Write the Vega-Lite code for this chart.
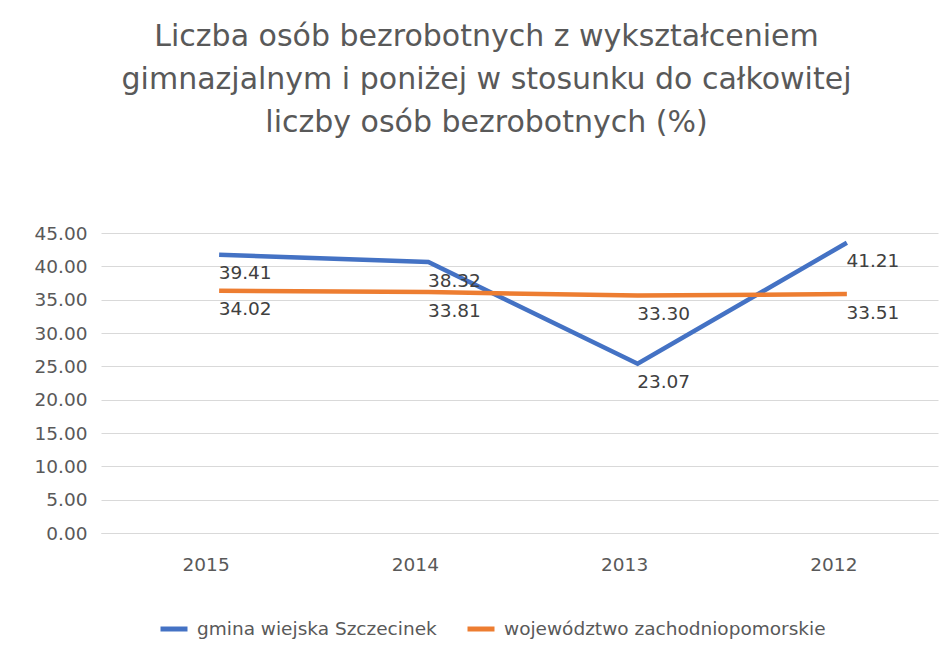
{
  "$schema": "https://vega.github.io/schema/vega-lite/v6.json",
  "width": 837,
  "height": 300,
  "autosize": {"type": "none"},
  "padding": {"left": 101, "top": 233, "right": 14, "bottom": 125},
  "background": "white",
  "config": {"view": {"stroke": null}},
  "title": {
    "text": ["Liczba osób bezrobotnych z wykształceniem", "gimnazjalnym i poniżej w stosunku do całkowitej", "liczby osób bezrobotnych (%)"],
    "font": "DejaVu Sans",
    "fontSize": 30,
    "fontWeight": "normal",
    "color": "#595959",
    "lineHeight": 43,
    "anchor": "middle",
    "frame": "group",
    "dx": -33,
    "offset": 86
  },
  "data": {
    "values": [
      {"year": "2015", "series": "gmina wiejska Szczecinek", "value": 39.41},
      {"year": "2014", "series": "gmina wiejska Szczecinek", "value": 38.32},
      {"year": "2013", "series": "gmina wiejska Szczecinek", "value": 23.07},
      {"year": "2012", "series": "gmina wiejska Szczecinek", "value": 41.21},
      {"year": "2015", "series": "województwo zachodniopomorskie", "value": 34.02},
      {"year": "2014", "series": "województwo zachodniopomorskie", "value": 33.81},
      {"year": "2013", "series": "województwo zachodniopomorskie", "value": 33.30},
      {"year": "2012", "series": "województwo zachodniopomorskie", "value": 33.51}
    ]
  },
  "encoding": {
    "x": {
      "field": "year",
      "type": "ordinal",
      "sort": ["2015", "2014", "2013", "2012"],
      "axis": {
        "title": null,
        "labelAngle": 0,
        "labelFont": "DejaVu Sans",
        "labelFontSize": 18.5,
        "labelColor": "#595959",
        "labelPadding": 22,
        "ticks": false,
        "domain": true,
        "domainColor": "#D9D9D9",
        "grid": false
      }
    },
    "y": {
      "field": "value",
      "type": "quantitative",
      "scale": {"domain": [0, 45], "nice": false},
      "axis": {
        "title": null,
        "values": [0, 5, 10, 15, 20, 25, 30, 35, 40, 45],
        "format": ".2f",
        "labelFont": "DejaVu Sans",
        "labelFontSize": 18.5,
        "labelColor": "#595959",
        "labelPadding": 14,
        "ticks": false,
        "domain": false,
        "grid": true,
        "gridColor": "#D9D9D9",
        "gridWidth": 1
      }
    },
    "color": {
      "field": "series",
      "type": "nominal",
      "scale": {
        "domain": ["gmina wiejska Szczecinek", "województwo zachodniopomorskie"],
        "range": ["#4472C4", "#ED7D31"]
      },
      "legend": {
        "title": null,
        "orient": "none",
        "legendX": 57,
        "legendY": 380,
        "direction": "horizontal",
        "symbolType": "stroke",
        "symbolSize": 729,
        "symbolStrokeWidth": 5,
        "labelFont": "DejaVu Sans",
        "labelFontSize": 18.5,
        "labelColor": "#595959",
        "labelLimit": 0,
        "labelOffset": 7,
        "columnPadding": 20
      }
    }
  },
  "layer": [
    {
      "mark": {"type": "line", "strokeWidth": 4.5, "xOffset": 13.5, "yOffset": -15.5}
    },
    {
      "mark": {"type": "text", "align": "left", "baseline": "middle", "dx": 13, "dy": 3, "font": "DejaVu Sans", "fontSize": 18.5, "color": "#404040"},
      "encoding": {
        "text": {"field": "value", "type": "quantitative", "format": ".2f"},
        "color": {"value": "#404040"}
      }
    }
  ]
}
